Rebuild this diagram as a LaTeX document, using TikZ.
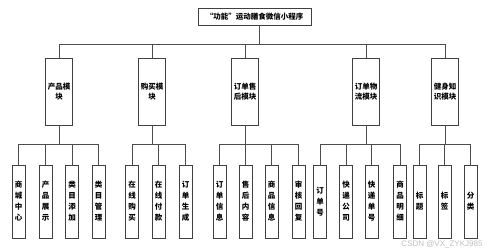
\documentclass[tikz,border=0pt]{standalone}
\usepackage{fontspec}
\setmainfont{Noto Sans CJK SC}
\newfontfamily\wmfont{Liberation Sans}
\begin{document}
\begin{tikzpicture}[x=1pt,y=-1pt,
  box/.style={draw=black!75,line width=0.6pt,fill=white,inner sep=0pt,font=\bfseries\fontsize{7.5}{10}\selectfont,align=center},
  titlebox/.style={box,minimum width=113pt,minimum height=17pt},
  modbox/.style={box,minimum width=27pt,minimum height=67pt},
  leafbox/.style={box,minimum width=13pt,minimum height=73pt,font=\bfseries\fontsize{7.5}{11}\selectfont},
  conn/.style={draw=black!70,line width=0.6pt}
]
\useasboundingbox (0,0) rectangle (498,251);
\node[titlebox] (t) at (254.5,16.5) {“功能”运动膳食微信小程序};
\coordinate (ts) at (259,25);
% modules
\node[modbox] (m1) at (59,91.5) {产品模\\块};
\node[modbox] (m2) at (152,91.5) {购买模\\块};
\node[modbox] (m3) at (245,91.5) {订单售\\后模块};
\node[modbox] (m4) at (366,91.5) {订单物\\流模块};
\node[modbox] (m5) at (445,91.5) {健身知\\识模块};
\foreach \m in {m1,m2,m3,m4,m5}{
  \draw[conn] (ts) -- ++(0,19) -| (\m.north);
}
% leaves
\node[leafbox] (a1) at (18.5,201.5) {商\\城\\中\\心};
\node[leafbox] (a2) at (45.5,201.5) {产\\品\\展\\示};
\node[leafbox] (a3) at (72,201.5) {类\\目\\添\\加};
\node[leafbox] (a4) at (98.5,201.5) {类\\目\\管\\理};
\node[leafbox] (b1) at (132,201.5) {在\\线\\购\\买};
\node[leafbox] (b2) at (158.5,201.5) {在\\线\\付\\款};
\node[leafbox] (b3) at (185.5,201.5) {订\\单\\生\\成};
\node[leafbox] (c1) at (219.5,201.5) {订\\单\\信\\息};
\node[leafbox] (c2) at (245.5,201.5) {售\\后\\内\\容};
\node[leafbox] (c3) at (271.5,201.5) {商\\品\\信\\息};
\node[leafbox] (c4) at (298.5,201.5) {审\\核\\回\\复};
\node[leafbox] (d1) at (320,201.5) {订\\单\\号};
\node[leafbox] (d2) at (346,201.5) {快\\递\\公\\司};
\node[leafbox] (d3) at (371.5,201.5) {快\\递\\单\\号};
\node[leafbox] (d4) at (400,201.5) {商\\品\\明\\细};
\node[leafbox] (e1) at (419.5,201.5) {标\\题};
\node[leafbox] (e2) at (444.5,201.5) {标\\签};
\node[leafbox] (e3) at (470.5,201.5) {分\\类};
\foreach \c in {a1,a2,a3,a4}{\draw[conn] (m1.south) -- ++(0,19.5) -| (\c.north);}
\foreach \c in {b1,b2,b3}{\draw[conn] (m2.south) -- ++(0,19.5) -| (\c.north);}
\foreach \c in {c1,c2,c3,c4}{\draw[conn] (m3.south) -- ++(0,19.5) -| (\c.north);}
\foreach \c in {d1,d2,d3,d4}{\draw[conn] (m4.south) -- ++(0,19.5) -| (\c.north);}
\foreach \c in {e1,e2,e3}{\draw[conn] (m5.south) -- ++(0,19.5) -| (\c.north);}
\node[text=black!25,font=\wmfont\fontsize{8}{9}\selectfont,inner sep=0pt] (wm) at (442,244.5) {CSDN @VX\_ZYKJ985};
\end{tikzpicture}
\end{document}
